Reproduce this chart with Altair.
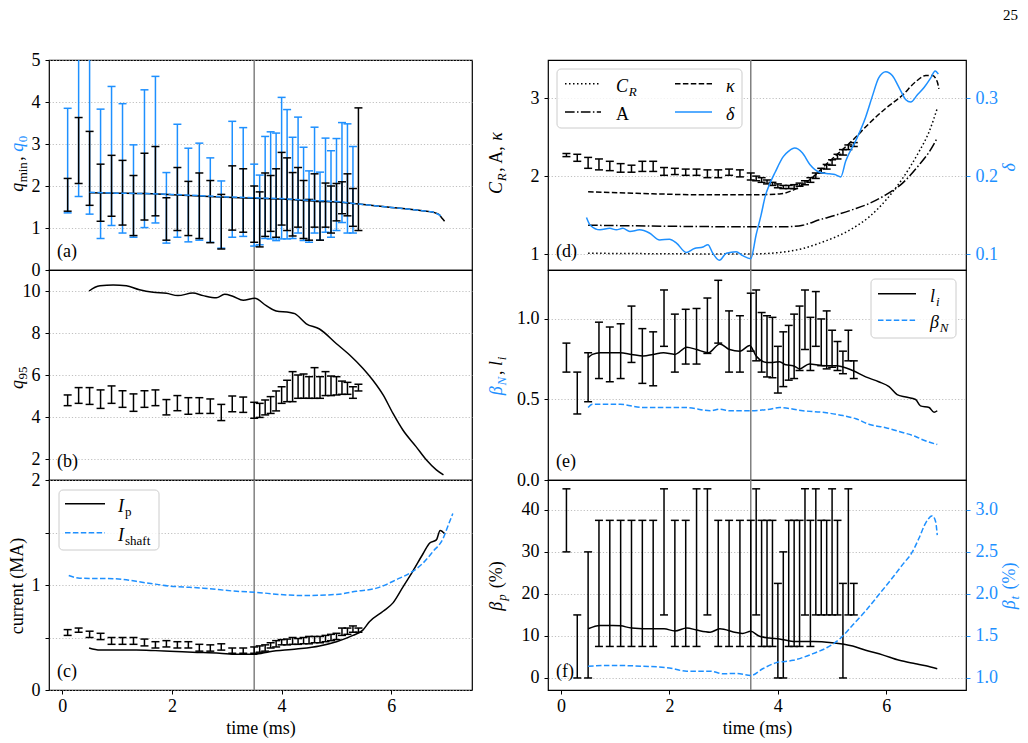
import altair as alt
import pandas as pd

FONT = "Liberation Serif"
BLUE = "#1e90ff"
BLACK = "black"
VGRAY = "#808080"
FS = 18
SUB = 13
WL, WR, H = 423, 418, 210
XDOM = [-0.24, 7.47]
DASH = [5.5, 2.4]
DOT = [1.5, 2.5]
DASHDOT = [9.6, 2.4, 1.5, 2.4]

# ---------------- data ----------------
T_ERR = [0.1, 0.3, 0.5, 0.7, 0.9, 1.1, 1.3, 1.5, 1.7, 1.9, 2.1, 2.3, 2.5, 2.7, 2.9, 3.1, 3.3, 3.5,
         3.6, 3.7, 3.8, 3.9, 4.0, 4.1, 4.2, 4.3, 4.4, 4.5, 4.6, 4.7, 4.8, 4.9, 5.0, 5.1, 5.2, 5.3, 5.4]
T_Q0ERR = T_ERR[:-1]

QMIN_LO = [1.40, 2.06, 1.54, 1.16, 1.28, 1.07, 0.82, 1.19, 1.29, 0.71, 0.94, 0.82, 0.75, 0.65, 0.50, 0.95, 0.90, 0.66,
           0.55, 0.80, 0.92, 0.78, 1.07, 0.94, 0.81, 1.02, 0.75, 0.71, 1.02, 0.71, 1.02, 0.88, 1.17, 1.34, 1.29, 1.04, 0.94]
QMIN_HI = [2.18, 3.63, 3.30, 2.52, 2.73, 2.61, 2.25, 2.78, 2.94, 1.72, 2.44, 2.11, 2.31, 2.13, 1.80, 2.48, 2.41, 2.00,
           1.86, 2.31, 2.25, 2.41, 2.80, 2.67, 2.32, 2.44, 2.13, 1.68, 2.29, 1.63, 2.07, 2.00, 2.06, 2.10, 2.29, 1.94, 3.86]
Q0_LO = [1.36, 1.75, 1.33, 0.75, 1.06, 0.88, 0.78, 1.01, 1.12, 0.64, 0.78, 0.67, 0.71, 0.66, 0.52, 0.78, 0.80, 0.57,
         0.60, 0.75, 0.74, 0.70, 0.74, 0.74, 0.75, 0.88, 0.70, 0.66, 0.88, 0.71, 0.90, 0.78, 0.94, 1.13, 0.88, 0.88]
Q0_HI = [3.85, 5.60, 5.60, 3.83, 4.37, 3.96, 2.98, 4.29, 4.61, 2.32, 3.47, 2.90, 3.02, 2.67, 2.12, 3.54, 3.39, 2.52,
         2.26, 3.18, 3.29, 3.26, 4.11, 3.82, 3.16, 3.64, 2.92, 2.36, 3.40, 2.33, 3.14, 2.84, 3.13, 3.51, 3.48, 2.94]
QMIN_T = [0.5, 1.0, 1.5, 2.0, 2.5, 3.0, 3.5, 4.0, 4.5, 5.0, 5.4, 5.7, 6.0, 6.3, 6.5, 6.7, 6.8, 6.87, 6.92, 6.97]
QMIN_V = [1.84, 1.83, 1.82, 1.79, 1.76, 1.73, 1.71, 1.69, 1.65, 1.62, 1.57, 1.53, 1.49, 1.45, 1.42, 1.39, 1.36, 1.32, 1.24, 1.16]
Q0_T = [0.5, 1.0, 1.5, 2.0, 2.5, 3.0, 3.5, 4.0, 4.5, 5.0, 5.4, 5.7, 6.0, 6.3, 6.5, 6.7, 6.8, 6.9]
Q0_V = [1.85, 1.83, 1.82, 1.80, 1.77, 1.74, 1.72, 1.70, 1.66, 1.63, 1.57, 1.53, 1.49, 1.45, 1.42, 1.39, 1.36, 1.29]

Q95_HI = [5.05, 5.40, 5.40, 5.29, 5.48, 5.25, 5.10, 5.25, 5.29, 4.83, 5.02, 4.92, 4.92, 4.86, 4.60, 5.00, 4.95, 4.70,
          4.65, 4.81, 4.97, 5.24, 5.44, 5.75, 6.16, 6.00, 6.05, 5.92, 6.35, 5.92, 6.16, 5.95, 5.92, 5.71, 5.65, 5.44, 5.56]
Q95_LO = [4.54, 4.65, 4.60, 4.41, 4.65, 4.46, 4.27, 4.46, 4.54, 4.10, 4.30, 4.13, 4.17, 4.17, 3.83, 4.25, 4.22, 3.94,
          3.98, 4.10, 4.17, 4.29, 4.65, 4.73, 4.73, 4.89, 4.89, 4.89, 4.89, 4.89, 5.02, 5.02, 5.05, 5.08, 5.08, 4.89, 5.24]
Q95_T = [0.49, 0.6, 0.69, 0.93, 1.17, 1.41, 1.66, 1.9, 2.11, 2.38, 2.57, 2.81, 2.96, 3.11, 3.3, 3.51, 3.72, 3.9,
         4.15, 4.24, 4.45, 4.69, 5.0, 5.24, 5.48, 5.66, 5.85, 6.03, 6.21, 6.45, 6.64, 6.82, 6.95]
Q95_V = [10.0, 10.18, 10.25, 10.29, 10.25, 10.06, 9.94, 9.89, 9.78, 9.9, 9.78, 9.68, 9.84, 9.75, 9.56, 9.65, 9.3, 9.05,
         8.98, 8.92, 8.44, 8.19, 7.49, 6.95, 6.32, 5.76, 5.05, 4.17, 3.38, 2.59, 1.95, 1.48, 1.24]

CUR_HI = [0.575, 0.59, 0.56, 0.54, 0.50, 0.50, 0.50, 0.485, 0.46, 0.47, 0.46, 0.46, 0.435, 0.43, 0.44, 0.40, 0.40, 0.41,
          0.42, 0.43, 0.45, 0.47, 0.48, 0.485, 0.50, 0.49, 0.50, 0.51, 0.51, 0.51, 0.52, 0.53, 0.54, 0.59, 0.59, 0.61, 0.59]
CUR_LO = [0.52, 0.55, 0.50, 0.48, 0.435, 0.435, 0.435, 0.42, 0.40, 0.41, 0.40, 0.40, 0.37, 0.37, 0.38, 0.35, 0.35, 0.35,
          0.36, 0.37, 0.40, 0.41, 0.43, 0.43, 0.435, 0.435, 0.44, 0.44, 0.45, 0.45, 0.46, 0.47, 0.48, 0.52, 0.53, 0.55, 0.55]
IP_T = [0.49, 0.69, 1.0, 1.35, 1.7, 1.96, 2.38, 2.87, 3.18, 3.51, 3.78, 4.27, 4.69, 5.0, 5.3, 5.48, 5.6, 5.85,
        6.03, 6.21, 6.39, 6.58, 6.7, 6.82, 6.89, 6.97]
IP_V = [0.40, 0.38, 0.38, 0.38, 0.375, 0.37, 0.36, 0.35, 0.34, 0.34, 0.365, 0.39, 0.42, 0.46, 0.52, 0.57, 0.65, 0.75,
        0.83, 0.98, 1.13, 1.30, 1.40, 1.43, 1.52, 1.49]
ISH_T = [0.12, 0.32, 0.93, 1.54, 1.96, 2.57, 3.18, 3.54, 3.96, 4.39, 5.0, 5.36, 5.73, 6.09, 6.39, 6.58, 6.76, 6.94, 7.03, 7.12]
ISH_V = [1.09, 1.065, 1.06, 1.02, 0.99, 0.97, 0.94, 0.93, 0.91, 0.90, 0.91, 0.94, 0.97, 1.05, 1.13, 1.21, 1.32, 1.44, 1.56, 1.68]

KAP_HI = [2.29, 2.28, 2.24, 2.22, 2.19, 2.16, 2.14, 2.19, 2.19, 2.11, 2.10, 2.09, 2.09, 2.08, 2.08, 2.09, 2.08, 2.04,
          2.00, 1.98, 1.95, 1.92, 1.90, 1.88, 1.88, 1.89, 1.91, 1.94, 1.98, 2.04, 2.10, 2.15, 2.21, 2.28, 2.34, 2.40, 2.43]
KAP_LO = [2.25, 2.19, 2.10, 2.08, 2.07, 2.05, 2.05, 2.06, 2.06, 2.01, 2.02, 2.01, 2.01, 1.98, 1.98, 2.01, 1.99, 1.95,
          1.94, 1.92, 1.90, 1.88, 1.85, 1.84, 1.84, 1.84, 1.87, 1.89, 1.92, 1.97, 2.04, 2.09, 2.14, 2.22, 2.27, 2.34, 2.38]
KAPPA_T = [0.5, 1.39, 2.62, 3.5, 4.03, 4.28, 4.58, 4.95, 5.38, 5.69, 5.99, 6.3, 6.54, 6.73, 6.85, 6.94, 6.97]
KAPPA_V = [1.80, 1.78, 1.76, 1.76, 1.77, 1.82, 1.95, 2.19, 2.46, 2.68, 2.87, 3.04, 3.21, 3.29, 3.29, 3.21, 3.12]
ASP_T = [0.5, 3.5, 4.15, 4.46, 4.77, 5.07, 5.38, 5.69, 5.99, 6.3, 6.6, 6.79, 6.94]
ASP_V = [1.37, 1.35, 1.35, 1.37, 1.44, 1.50, 1.57, 1.65, 1.76, 1.91, 2.14, 2.31, 2.49]
CR_T = [0.5, 3.5, 4.15, 4.46, 4.77, 5.38, 5.69, 5.99, 6.3, 6.6, 6.79, 6.94]
CR_V = [1.01, 1.00, 1.03, 1.07, 1.14, 1.33, 1.48, 1.69, 1.97, 2.31, 2.57, 2.87]
DEL_T = [0.47, 0.54, 0.72, 0.9, 1.02, 1.14, 1.27, 1.45, 1.63, 1.82, 2.0, 2.13, 2.31, 2.46, 2.62, 2.71, 2.8, 2.92,
         3.05, 3.23, 3.35, 3.5, 3.6, 3.69, 3.77, 3.85, 3.95, 4.1, 4.2, 4.31, 4.45, 4.59, 4.77, 4.95, 5.05, 5.16,
         5.25, 5.44, 5.62, 5.74, 5.86, 5.99, 6.11, 6.24, 6.36, 6.45, 6.57, 6.7, 6.82, 6.9, 6.96]
DEL_V = [0.147, 0.137, 0.131, 0.133, 0.131, 0.133, 0.129, 0.131, 0.127, 0.118, 0.119, 0.114, 0.102, 0.107, 0.109, 0.112,
         0.101, 0.092, 0.101, 0.103, 0.098, 0.094, 0.125, 0.150, 0.175, 0.190, 0.205, 0.225, 0.232, 0.236, 0.230, 0.215,
         0.205, 0.203, 0.202, 0.199, 0.219, 0.246, 0.276, 0.302, 0.326, 0.334, 0.329, 0.313, 0.298, 0.295, 0.304, 0.314,
         0.326, 0.335, 0.331]

LI_HI = [0.85, 0.67, 0.79, 0.98, 0.95, 0.97, 1.08, 0.94, 0.92, 1.18, 1.03, 1.06, 1.065, 1.13, 1.24, 1.05, 1.02, 1.16,
         1.18, 1.04, 1.02, 1.01, 0.83, 0.92, 0.96, 1.03, 1.08, 1.18, 1.01, 1.17, 1.00, 1.05, 0.93, 0.86, 0.80, 0.93, 0.74]
LI_LO = [0.67, 0.41, 0.486, 0.63, 0.61, 0.63, 0.73, 0.60, 0.585, 0.83, 0.67, 0.72, 0.72, 0.786, 0.85, 0.67, 0.67, 0.80,
         0.74, 0.67, 0.64, 0.635, 0.54, 0.58, 0.62, 0.63, 0.68, 0.81, 0.68, 0.83, 0.71, 0.69, 0.70, 0.68, 0.66, 0.74, 0.63]
LI_T = [0.5, 0.58, 0.72, 0.9, 1.09, 1.3, 1.52, 1.7, 1.89, 2.1, 2.32, 2.5, 2.72, 2.93, 3.11, 3.3, 3.48, 3.6, 3.79,
        3.91, 4.03, 4.15, 4.28, 4.4, 4.58, 4.83, 5.07, 5.38, 5.62, 5.86, 6.05, 6.2, 6.36, 6.54, 6.63, 6.79, 6.88, 6.94]
LI_V = [0.76, 0.78, 0.79, 0.79, 0.79, 0.78, 0.77, 0.78, 0.79, 0.78, 0.825, 0.81, 0.79, 0.845, 0.81, 0.80, 0.835, 0.77,
        0.73, 0.73, 0.735, 0.715, 0.71, 0.69, 0.72, 0.71, 0.71, 0.68, 0.64, 0.61, 0.58, 0.53, 0.515, 0.50, 0.46, 0.45,
        0.42, 0.43]
BN_T = [0.5, 0.58, 1.09, 1.52, 2.0, 2.32, 2.75, 2.93, 3.11, 3.48, 3.85, 4.03, 4.46, 4.83, 5.2, 5.44, 5.69, 5.99,
        6.3, 6.54, 6.67, 6.94]
BN_V = [0.45, 0.47, 0.47, 0.45, 0.45, 0.45, 0.43, 0.44, 0.43, 0.43, 0.44, 0.45, 0.43, 0.42, 0.40, 0.38, 0.345, 0.325,
        0.295, 0.27, 0.25, 0.22]

BP_HI = [45, 15, 30, 37.5, 37.5, 37.5, 37.5, 37.5, 37.5, 45, 37.5, 37.5, 45, 45, 37.5, 37.5, 37.5, 37.5,
         45, 37.5, 37.5, 37.5, 22.5, 30, 37.5, 37.5, 37.5, 45, 37.5, 45, 37.5, 37.5, 45, 37.5, 22.5, 45, 22.5]
BP_LO = [30, 0, 0, 7.5, 7.5, 7.5, 7.5, 7.5, 7.5, 15, 7.5, 7.5, 7.5, 15, 7.5, 7.5, 7.5, 7.5,
         15, 7.5, 7.5, 7.5, 0, 0, 7.5, 7.5, 7.5, 15, 7.5, 15, 15, 15, 15, 15, 0, 15, 15]
BP_T = [0.5, 0.72, 0.96, 1.1, 1.3, 1.7, 1.9, 2.1, 2.32, 2.5, 2.75, 2.93, 3.23, 3.35, 3.5, 3.65, 3.84, 4.03, 4.28,
        4.65, 5.0, 5.38, 5.62, 5.93, 6.24, 6.54, 6.73, 6.94]
BP_V = [11.7, 12.5, 12.5, 12.4, 11.9, 11.7, 11.7, 11.2, 11.9, 11.4, 10.9, 11.7, 10.8, 10.6, 11.1, 10.0, 9.5, 9.3, 8.7,
        8.7, 8.4, 7.6, 6.6, 5.5, 4.2, 3.4, 2.9, 2.2]
BT_T = [0.5, 0.96, 1.5, 2.0, 2.32, 2.75, 3.0, 3.23, 3.5, 3.72, 3.96, 4.28, 4.65, 4.9, 5.15, 5.38, 5.62, 5.86, 6.11,
        6.3, 6.48, 6.6, 6.73, 6.85, 6.91, 6.94]
BT_V = [1.14, 1.15, 1.14, 1.12, 1.08, 1.08, 1.05, 1.055, 1.03, 1.11, 1.18, 1.21, 1.29, 1.36, 1.47, 1.63, 1.80, 1.99,
        2.19, 2.35, 2.50, 2.66, 2.85, 2.93, 2.86, 2.70]

T_MARK = [3.5]

# ---------------- helpers ----------------
W_REG = {"a": .444, "c": .444, "e": .444, "f": .333, "h": .5, "i": .278, "l": .278, "m": .778, "n": .5, "p": .5,
         "r": .333, "s": .389, "t": .278, "u": .5, "A": .722, "M": .889, "R": .667, "N": .722, "(": .333, ")": .333,
         "%": .833, ",": .25, " ": .25}
W_IT = {"q": .5, "I": .36, "C": .68, "R": .62, "N": .68, "l": .3, "i": .3, "p": .5, "t": .3,
        "β": .52, "κ": .48, "δ": .5}


def text_width(s, size, italic):
    tbl = W_IT if italic else W_REG
    return sum(tbl.get(c, W_REG.get(c, 0.5)) for c in s) * size


def rich(segs, x, y, angle=0, center=False):
    widths = [text_width(s, sz, it) + (2.0 if sh else 0.0) for (s, sz, it, col, sh) in segs]
    adv = -sum(widths) / 2 if center else 0
    out = []
    for (s, sz, it, col, sh), w in zip(segs, widths):
        lead = len(s) - len(s.lstrip(" "))
        shown = s.strip(" ")
        off = adv + lead * W_REG[" "] * sz + (0.5 if sh else 0.0)
        mk = dict(font=FONT, fontSize=sz, fontStyle="italic" if it else "normal", color=col,
                  align="left", baseline="alphabetic", dx=off, dy=sh)
        if angle:
            mk["angle"] = angle
        out.append(alt.Chart(pd.DataFrame({"s": [shown]})).mark_text(**mk).encode(
            x=alt.value(x), y=alt.value(y), text="s:N"))
        adv += w
    return out


def legend_box(x1, x2, y1, y2):
    return alt.Chart(pd.DataFrame({"k": [0]})).mark_rect(
        fill="white", fillOpacity=0.8, stroke="#cccccc", strokeWidth=1, cornerRadius=4).encode(
        x=alt.value(x1), x2=alt.value(x2), y=alt.value(y1), y2=alt.value(y2))


def legend_line(x1, x2, y, color, dash=None):
    mk = dict(color=color, strokeWidth=1.5)
    if dash:
        mk["strokeDash"] = dash
    return alt.Chart(pd.DataFrame({"k": [0]})).mark_rule(**mk).encode(
        x=alt.value(x1), x2=alt.value(x2), y=alt.value(y))


XAX_BOTTOM = alt.Axis(values=[0, 2, 4, 6], format="d", grid=False, domain=False, tickSize=4, tickColor=BLACK,
                      labelFont=FONT, labelFontSize=FS, labelColor=BLACK, labelPadding=3, labelFlush=False,
                      titleFont=FONT, titleFontSize=FS, titleFontWeight="normal", titleColor=BLACK, titlePadding=4)


def xenc(bottom):
    if bottom:
        return alt.X("t:Q", scale=alt.Scale(domain=XDOM, nice=False, zero=False), axis=XAX_BOTTOM,
                     title="time (ms)")
    return alt.X("t:Q", scale=alt.Scale(domain=XDOM, nice=False, zero=False), axis=None)


def yaxis(values, fmt=None, color=BLACK, orient="left", grid=True, label_expr=None):
    kw = dict(values=values, orient=orient, grid=grid, domain=False, tickSize=4, tickWidth=1, tickColor=color,
              labelColor=color, labelFont=FONT, labelFontSize=FS, labelPadding=5, title=None,
              gridColor="#b0b0b0", gridDash=[1.2, 2], gridWidth=0.8)
    if fmt:
        kw["format"] = fmt
    if label_expr:
        kw["labelExpr"] = label_expr
    return alt.Axis(**kw)


def errbars(t, lo, hi, color, xe, sc, ax):
    df = pd.DataFrame({"t": t, "lo": lo, "hi": hi})
    b = alt.Chart(df)
    r = b.mark_rule(color=color, strokeWidth=1.5, clip=True).encode(
        x=xe, y=alt.Y("lo:Q", scale=sc, axis=ax), y2="hi:Q")
    c1 = b.mark_tick(color=color, orient="horizontal", size=8, thickness=1.5, opacity=1, clip=True).encode(
        x=xe, y=alt.Y("lo:Q", scale=sc, axis=ax))
    c2 = b.mark_tick(color=color, orient="horizontal", size=8, thickness=1.5, opacity=1, clip=True).encode(
        x=xe, y=alt.Y("hi:Q", scale=sc, axis=ax))
    return [r, c1, c2]


def line(t, v, color, xe, sc, ax, dash=None):
    mk = dict(color=color, strokeWidth=1.5, interpolate="monotone", clip=True)
    if dash:
        mk["strokeDash"] = dash
    return alt.Chart(pd.DataFrame({"t": t, "v": v})).mark_line(**mk).encode(
        x=xe, y=alt.Y("v:Q", scale=sc, axis=ax))


def vline(xe):
    return alt.Chart(pd.DataFrame({"t": T_MARK})).mark_rule(color=VGRAY, strokeWidth=1.5).encode(x=xe)


def tag(s):
    return rich([(s, FS, False, BLACK, 0)], 8, 197)


# ---------------- panel (a) ----------------
xa = xenc(False)
sa = alt.Scale(domain=[0, 5], nice=False, zero=False)
aa = yaxis([0, 1, 2, 3, 4, 5], fmt="d")
pa = alt.layer(
    vline(xa),
    *errbars(T_Q0ERR, Q0_LO, Q0_HI, BLUE, xa, sa, aa),
    *errbars(T_ERR, QMIN_LO, QMIN_HI, BLACK, xa, sa, aa),
    line(QMIN_T, QMIN_V, BLACK, xa, sa, aa),
    line(Q0_T, Q0_V, BLUE, xa, sa, aa, DASH),
    *tag("(a)"),
    *rich([("q", FS, True, BLACK, 0), ("min", SUB, False, BLACK, 4), (", ", FS, False, BLACK, 0),
           ("q", FS, True, BLUE, 0), ("0", SUB, False, BLUE, 4)], -26, 103, 270, True),
).properties(width=WL, height=H)

# ---------------- panel (b) ----------------
xb = xenc(False)
sb = alt.Scale(domain=[1, 11], nice=False, zero=False)
ab = yaxis([2, 4, 6, 8, 10], fmt="d")
pb = alt.layer(
    vline(xb),
    *errbars(T_ERR, Q95_LO, Q95_HI, BLACK, xb, sb, ab),
    line(Q95_T, Q95_V, BLACK, xb, sb, ab),
    *tag("(b)"),
    *rich([("q", FS, True, BLACK, 0), ("95", SUB, False, BLACK, 4)], -26, 107, 270, True),
).properties(width=WL, height=H)

# ---------------- panel (c) ----------------
xc = xenc(True)
sc_ = alt.Scale(domain=[0, 2], nice=False, zero=False)
ac = yaxis([0, 0.5, 1, 1.5, 2], label_expr="datum.value % 1 === 0 ? format(datum.value, 'd') : ''")
pc = alt.layer(
    vline(xc),
    *errbars(T_ERR, CUR_LO, CUR_HI, BLACK, xc, sc_, ac),
    line(IP_T, IP_V, BLACK, xc, sc_, ac),
    line(ISH_T, ISH_V, BLUE, xc, sc_, ac, DASH),
    legend_box(10, 110, 10, 70),
    legend_line(16, 56, 23.7, BLACK),
    legend_line(16, 56, 52.7, BLUE, DASH),
    *rich([("I", FS, True, BLACK, 0), ("p", SUB, False, BLACK, 4)], 69, 31.5),
    *rich([("I", FS, True, BLACK, 0), ("shaft", SUB, False, BLACK, 4)], 69, 60.5),
    *tag("(c)"),
    *rich([("current (MA)", FS, False, BLACK, 0)], -26, 106, 270, True),
).properties(width=WL, height=H)

# ---------------- panel (d) ----------------
xd = xenc(False)
sdl = alt.Scale(domain=[0.795, 3.49], nice=False, zero=False)
adl = yaxis([1, 2, 3], fmt="d")
sdr = alt.Scale(domain=[0.0795, 0.349], nice=False, zero=False)
adr = yaxis([0.1, 0.2, 0.3], fmt=".1f", color=BLUE, orient="right", grid=False)
pd_left = alt.layer(
    vline(xd),
    *errbars(T_ERR, KAP_LO, KAP_HI, BLACK, xd, sdl, adl),
    line(CR_T, CR_V, BLACK, xd, sdl, adl, DOT),
    line(ASP_T, ASP_V, BLACK, xd, sdl, adl, DASHDOT),
    line(KAPPA_T, KAPPA_V, BLACK, xd, sdl, adl, DASH),
    legend_box(9, 194, 9, 68),
    legend_line(17, 53, 23.7, BLACK, DOT),
    legend_line(127, 164, 23.7, BLACK, DASH),
    legend_line(17, 53, 52, BLACK, DASHDOT),
    legend_line(127, 164, 52, BLUE),
    *rich([("C", FS, True, BLACK, 0), ("R", SUB, True, BLACK, 4)], 68, 31.5),
    *rich([("κ", FS, True, BLACK, 0)], 178, 31.5),
    *rich([("A", FS, False, BLACK, 0)], 68, 60),
    *rich([("δ", FS, True, BLACK, 0)], 178, 60),
    *tag("(d)"),
    *rich([("C", FS, True, BLACK, 0), ("R", SUB, True, BLACK, 4), (", A, ", FS, False, BLACK, 0),
           ("κ", FS, True, BLACK, 0)], -46, 103, 270, True),
    *rich([("δ", FS, True, BLUE, 0)], WR + 49, 107, 270, True),
    *rich([("25", 15, False, BLACK, 0)], 455, -40),
)
pd_right = alt.layer(line(DEL_T, DEL_V, BLUE, xd, sdr, adr))
pdd = alt.layer(pd_left, pd_right).resolve_scale(y="independent").properties(width=WR, height=H)

# ---------------- panel (e) ----------------
xe_ = xenc(False)
se = alt.Scale(domain=[0, 1.304], nice=False, zero=False)
ae = yaxis([0, 0.5, 1.0], fmt=".1f")
pe = alt.layer(
    vline(xe_),
    *errbars(T_ERR, LI_LO, LI_HI, BLACK, xe_, se, ae),
    line(LI_T, LI_V, BLACK, xe_, se, ae),
    line(BN_T, BN_V, BLUE, xe_, se, ae, DASH),
    legend_box(323, 408, 9, 68),
    legend_line(330, 368, 23.7, BLACK),
    legend_line(330, 368, 50.3, BLUE, DASH),
    *rich([("l", FS, True, BLACK, 0), ("i", SUB, True, BLACK, 4)], 382, 31.5),
    *rich([("β", FS, True, BLACK, 0), ("N", SUB, True, BLACK, 4)], 382, 58),
    *tag("(e)"),
    *rich([("β", FS, True, BLUE, 0), ("N", SUB, True, BLUE, 4), (", ", FS, False, BLACK, 0),
           ("l", FS, True, BLACK, 0), ("i", SUB, True, BLACK, 4)], -46, 105, 270, True),
).properties(width=WR, height=H)

# ---------------- panel (f) ----------------
xf = xenc(True)
sfl = alt.Scale(domain=[-2.86, 47.1], nice=False, zero=False)
afl = yaxis([0, 10, 20, 30, 40], fmt="d")
sfr = alt.Scale(domain=[0.857, 3.357], nice=False, zero=False)
afr = yaxis([1.0, 1.5, 2.0, 2.5, 3.0], fmt=".1f", color=BLUE, orient="right", grid=False)
pf_left = alt.layer(
    vline(xf),
    *errbars(T_ERR, BP_LO, BP_HI, BLACK, xf, sfl, afl),
    line(BP_T, BP_V, BLACK, xf, sfl, afl),
    *tag("(f)"),
    *rich([("β", FS, True, BLACK, 0), ("p", SUB, True, BLACK, 4), (" (%)", FS, False, BLACK, 0)],
          -46, 106, 270, True),
    *rich([("β", FS, True, BLUE, 0), ("t", SUB, True, BLUE, 4), (" (%)", FS, False, BLUE, 0)],
          WR + 49, 106, 270, True),
)
pf_right = alt.layer(line(BT_T, BT_V, BLUE, xf, sfr, afr, DASH))
pff = alt.layer(pf_left, pf_right).resolve_scale(y="independent").properties(width=WR, height=H)

chart = alt.concat(pa, pdd, pb, pe, pc, pff, columns=2,
                   spacing={"row": 0, "column": 76}, bounds="flush").properties(
    padding={"left": 8, "top": 7, "right": 2, "bottom": 2}, background="white"
).configure_view(stroke=BLACK, strokeWidth=1.2)

chart.save("out.html", embed_options={"renderer": "svg", "actions": False})
